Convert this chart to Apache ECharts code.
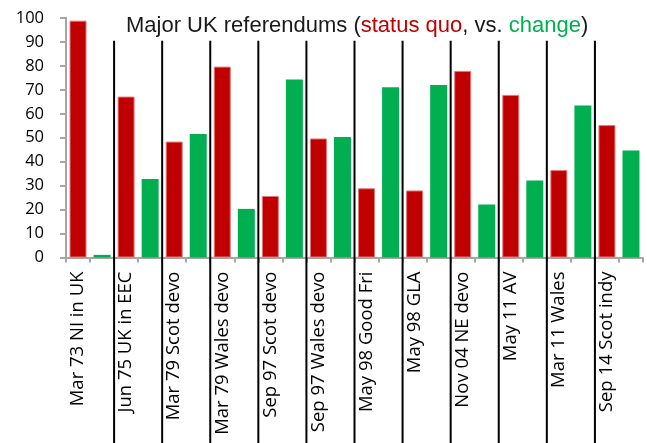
<!DOCTYPE html>
<html>
<head>
<meta charset="utf-8">
<title>Major UK referendums</title>
<script src="https://cdn.jsdelivr.net/npm/echarts@6/dist/echarts.min.js"></script>
<style>
  html, body { margin: 0; padding: 0; background: #fff; }
  #chart { width: 647px; height: 443px; }
</style>
</head>
<body>
<div id="chart"></div>
<script>
// Referendum results, % of votes cast
const categories = [
  'Mar 73 NI in UK', 'Jun 75 UK in EEC', 'Mar 79 Scot devo', 'Mar 79 Wales devo',
  'Sep 97 Scot devo', 'Sep 97 Wales devo', 'May 98 Good Fri', 'May 98 GLA',
  'Nov 04 NE devo', 'May 11 AV', 'Mar 11 Wales', 'Sep 14 Scot indy'
];
const statusQuo = [98.9, 67.2, 48.4, 79.7, 25.7, 49.7, 28.9, 28.0, 77.9, 67.9, 36.5, 55.3];
const change    = [1.1, 32.8, 51.6, 20.3, 74.3, 50.3, 71.1, 72.0, 22.1, 32.1, 63.5, 44.7];

// Value axis ticks
const yMin = 0;
const yMax = 100;
const yStep = 10;

const RED = '#C00000';
const GREEN = '#00B050';
const AXIS_GREY = '#a6a6a6';

// Each referendum gets two slots on the category axis: status quo, then change
const slots = [];
const redData = [];
const greenData = [];
categories.forEach((c, i) => {
  slots.push(c, c + ' \u2013 change');
  redData.push(statusQuo[i], '-');
  greenData.push('-', change[i]);
});

// Separators sit on the boundaries between referendums (in slot units)
const separators = [];
for (let k = 1; k < categories.length; k++) separators.push(2 * k);
const separatorTop = 90.5;

const chart = echarts.init(document.getElementById('chart'), null, { renderer: 'canvas' });

const titleFont = { fontFamily: 'Liberation Sans', fontSize: 22, fontWeight: 'normal', lineHeight: 26 };

chart.setOption({
  animation: false,
  backgroundColor: '#fff',
  title: {
    left: 121,
    top: 8,
    text: '{k|Major UK referendums (}{r|status quo}{k|, vs. }{g|change}{k|)}',
    textStyle: {
      fontWeight: 'normal',
      rich: {
        k: Object.assign({ color: '#1a1a1a' }, titleFont),
        r: Object.assign({ color: RED }, titleFont),
        g: Object.assign({ color: GREEN }, titleFont)
      }
    }
  },
  grid: { left: 66, right: 4, top: 18, bottom: 185.5, containLabel: false },
  xAxis: [
    {
      type: 'category',
      data: slots,
      boundaryGap: true,
      axisLine: { show: true, lineStyle: { color: AXIS_GREY, width: 2 } },
      axisTick: { show: true, interval: 0, length: 5, lineStyle: { color: AXIS_GREY, width: 2 } },
      axisLabel: {
        interval: 0,
        rotate: 90,
        margin: 14,
        fontFamily: 'Open Sans',
        fontSize: 18.5,
        color: '#000',
        formatter: (value, index) => (index % 2 === 0 ? value : '')
      },
      splitLine: { show: false }
    },
    {
      type: 'value',
      min: 0,
      max: slots.length,
      show: false
    }
  ],
  yAxis: {
    type: 'value',
    min: yMin,
    max: yMax,
    interval: yStep,
    axisLine: { show: true, lineStyle: { color: AXIS_GREY, width: 2 } },
    axisTick: { show: true, length: 6, lineStyle: { color: AXIS_GREY, width: 2 } },
    axisLabel: {
      margin: 22,
      fontFamily: 'Open Sans',
      fontSize: 16.5,
      color: '#000'
    },
    splitLine: { show: false }
  },
  series: [
    {
      name: 'status quo',
      type: 'bar',
      data: redData,
      barWidth: 17,
      barGap: '-100%',
      itemStyle: { color: RED, borderColor: '#e07a7a', borderWidth: 1 }
    },
    {
      name: 'change',
      type: 'bar',
      data: greenData,
      barWidth: 17,
      barGap: '-100%',
      itemStyle: { color: GREEN }
    },
    {
      name: 'separators',
      type: 'custom',
      xAxisIndex: 1,
      yAxisIndex: 0,
      clip: false,
      silent: true,
      z: 5,
      data: separators,
      renderItem: (params, api) => {
        const top = api.coord([api.value(0), separatorTop]);
        return {
          type: 'line',
          shape: { x1: top[0], y1: top[1], x2: top[0], y2: api.getHeight() },
          style: { stroke: '#000', lineWidth: 2 }
        };
      }
    }
  ]
});
</script>
</body>
</html>
